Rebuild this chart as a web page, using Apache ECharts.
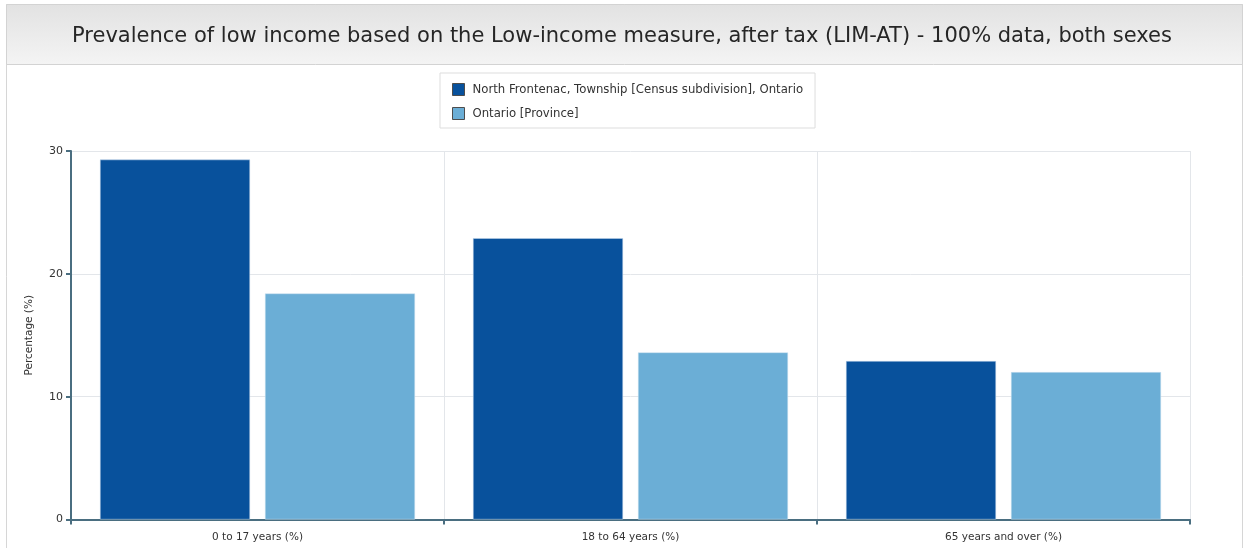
<!DOCTYPE html>
<html>
<head>
<meta charset="utf-8">
<script src="https://cdn.jsdelivr.net/npm/echarts@6/dist/echarts.min.js"></script>
<style>
  html, body { margin: 0; padding: 0; background: #ffffff; }
  #chart { width: 1244px; height: 548px; }
</style>
</head>
<body>
<div id="chart"></div>
<script>
// Age groups shown along the x axis
const categories = ['0 to 17 years (%)', '18 to 64 years (%)', '65 years and over (%)'];
// Series names
const seriesNames = [
  'North Frontenac, Township [Census subdivision], Ontario',
  'Ontario [Province]'
];
// Prevalence of low income (%) for each age group
const northFrontenac = [29.3, 22.9, 12.9];
const ontario = [18.4, 13.6, 12.0];
// Y axis ticks
const yTicks = [0, 10, 20, 30];

const chart = echarts.init(document.getElementById('chart'), null, { renderer: 'canvas' });

const axisColor = '#4a6e80';
const gridColor = '#e3e6ea';
const textColor = '#333333';
const font = 'DejaVu Sans';

chart.setOption({
  animation: false,
  backgroundColor: '#ffffff',
  graphic: [
    // outer frame
    {
      type: 'rect', z: -10,
      shape: { x: 6.5, y: 4.5, width: 1236, height: 560 },
      style: { fill: '#ffffff', stroke: '#d6d6d6', lineWidth: 1 }
    },
    // title band
    {
      type: 'rect', z: -9,
      shape: { x: 6.5, y: 4.5, width: 1236, height: 60 },
      style: {
        fill: new echarts.graphic.LinearGradient(0, 0, 0, 1, [
          { offset: 0, color: '#e2e2e2' },
          { offset: 1, color: '#f4f4f4' }
        ]),
        stroke: '#d3d3d3', lineWidth: 1
      }
    }
  ],
  title: {
    text: 'Prevalence of low income based on the Low-income measure, after tax (LIM-AT) - 100% data, both sexes',
    left: 'center',
    top: 21,
    textStyle: { fontFamily: font, fontSize: 21, fontWeight: 'normal', color: '#262626' }
  },
  legend: {
    orient: 'vertical',
    left: 440,
    top: 73,
    padding: [10, 12, 8, 12],
    itemGap: 11,
    itemWidth: 12,
    itemHeight: 12,
    borderColor: '#dddddd',
    borderWidth: 1,
    icon: 'rect',
    itemStyle: { borderColor: '#4d4d4d', borderWidth: 1 },
    data: seriesNames,
    textStyle: { fontFamily: font, fontSize: 11.7, color: textColor, padding: [0, 0, 0, 3] }
  },
  grid: { left: 71, right: 54, top: 151, bottom: 28.5, containLabel: false },
  xAxis: {
    type: 'category',
    data: categories,
    boundaryGap: true,
    axisLine: { show: true, lineStyle: { color: axisColor, width: 2 } },
    axisTick: { show: true, length: 5, lineStyle: { color: axisColor, width: 2 } },
    axisLabel: { fontFamily: font, fontSize: 10.5, color: textColor, margin: 12 },
    splitLine: { show: true, lineStyle: { color: gridColor, width: 1 } }
  },
  yAxis: {
    type: 'value',
    min: yTicks[0],
    max: yTicks[yTicks.length - 1],
    interval: 10,
    name: 'Percentage (%)',
    nameLocation: 'middle',
    nameGap: 36,
    nameRotate: 90,
    nameTextStyle: { fontFamily: font, fontSize: 10.5, color: textColor },
    axisLine: { show: true, lineStyle: { color: axisColor, width: 2 } },
    axisTick: { show: true, length: 5, lineStyle: { color: axisColor, width: 2 } },
    axisLabel: { fontFamily: font, fontSize: 11, color: textColor, margin: 8 },
    splitLine: { show: true, lineStyle: { color: gridColor, width: 1 } }
  },
  series: [
    {
      name: seriesNames[0],
      type: 'bar',
      data: northFrontenac,
      barWidth: 150,
      barGap: '10%',
      itemStyle: { color: '#08519c', borderColor: '#c6d8ec', borderWidth: 0.5 }
    },
    {
      name: seriesNames[1],
      type: 'bar',
      data: ontario,
      barWidth: 150,
      barGap: '10%',
      itemStyle: { color: '#6baed6', borderColor: '#cfe3f1', borderWidth: 0.5 }
    }
  ]
});
</script>
</body>
</html>
